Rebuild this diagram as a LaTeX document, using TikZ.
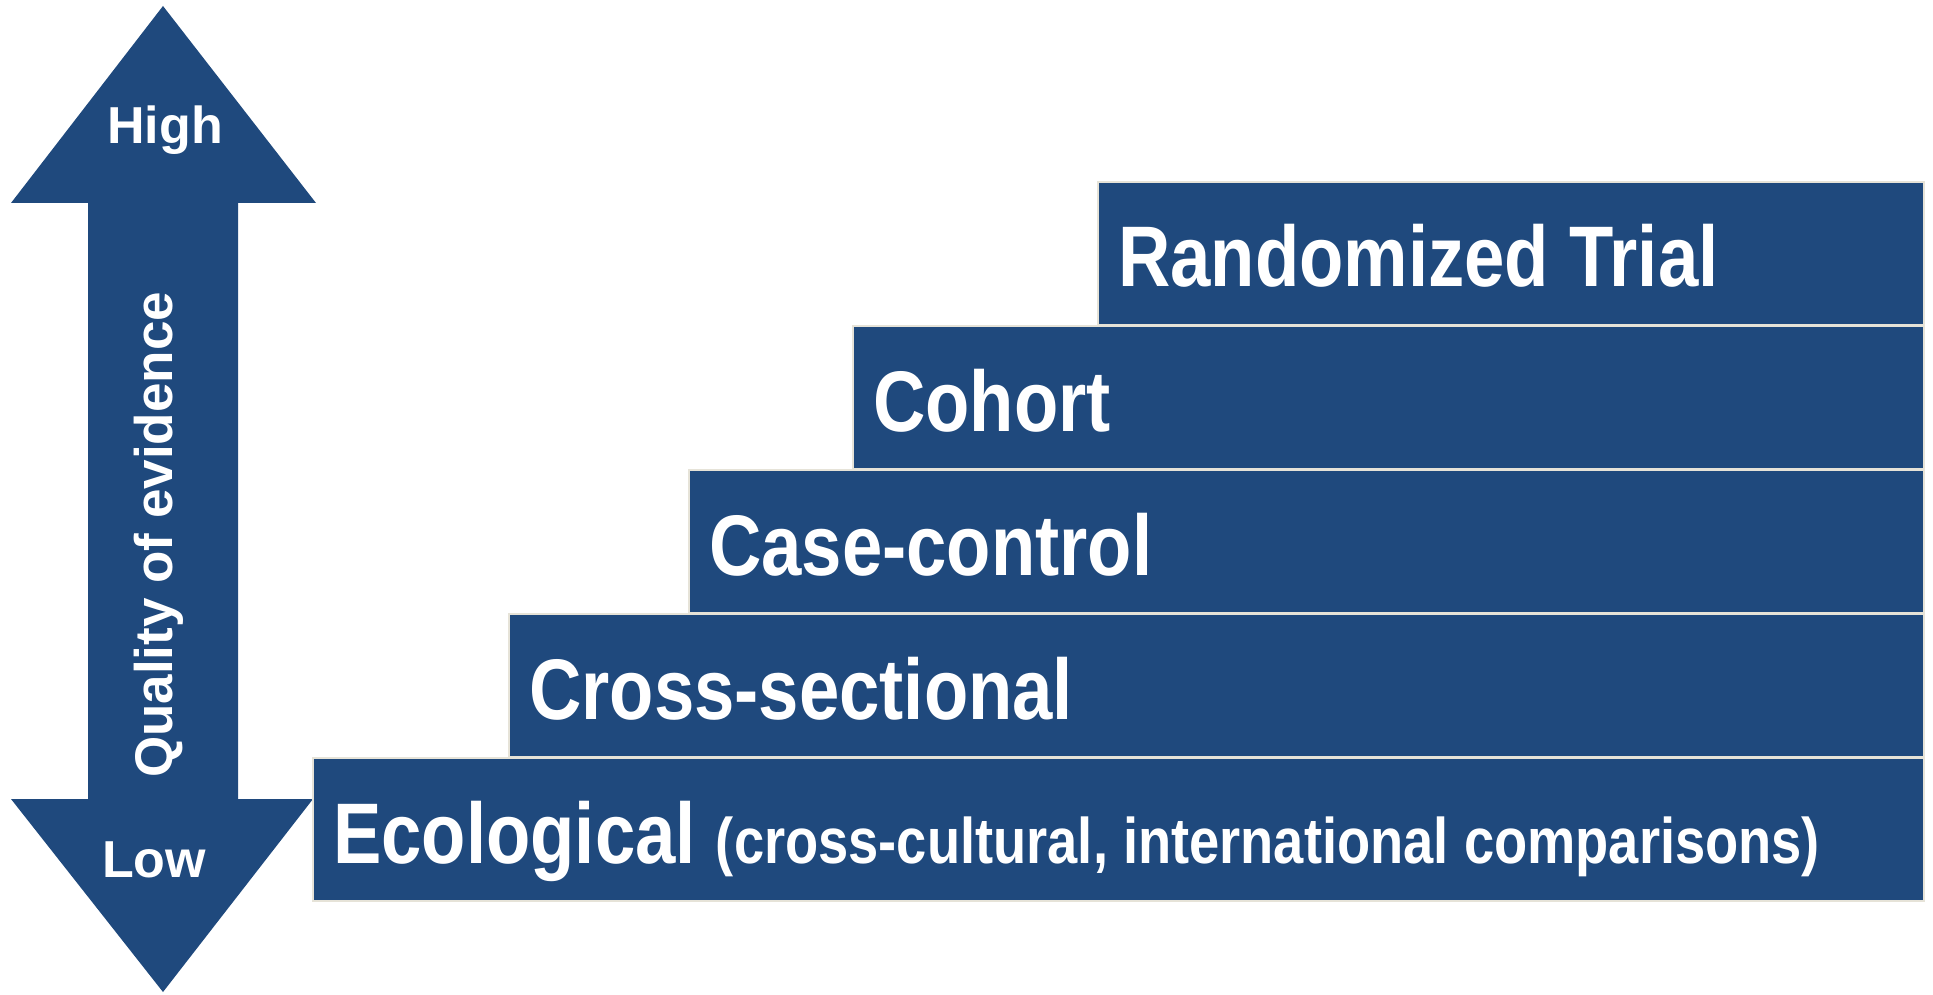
\documentclass[tikz,border=0pt]{standalone}
\usepackage{fontspec}
\newfontfamily\narrowfont[FakeStretch=0.843]{Liberation Sans}
\newfontfamily\arialfont{Liberation Sans}
\definecolor{evblue}{HTML}{1F497D}
\definecolor{evedge}{HTML}{E6E3D8}
\tikzset{
  stepbox/.style={fill=evblue, draw=evedge, line width=2pt, anchor=north west, inner sep=0pt},
  steplabel/.style={text=white, anchor=base west, inner sep=0pt, font=\narrowfont\bfseries\fontsize{86}{90}\selectfont},
  arrowlabel/.style={text=white, inner sep=0pt, font=\arialfont\bfseries\fontsize{52}{56}\selectfont},
}
\begin{document}
\begin{tikzpicture}[x=1pt,y=-1pt]
\useasboundingbox (0,0) rectangle (1933,995);
% double arrow
\fill[evblue] (163,6) -- (316,203) -- (238,203) -- (238,799) -- (313,799) -- (163,992)
  -- (11,799) -- (88,799) -- (88,203) -- (11,203) -- cycle;
\node[arrowlabel, anchor=base] (high) at (165,144) {High};
\node[arrowlabel, anchor=base] (low) at (154,877) {Low};
\node[arrowlabel, rotate=90, font=\arialfont\bfseries\fontsize{53}{56}\selectfont] (quality) at (159,535) {Quality of evidence};
% steps
\node[stepbox, minimum width=826pt, minimum height=143pt] (rt) at (1097,181) {};
\node[stepbox, minimum width=1071pt, minimum height=143pt] (co) at (852,325) {};
\node[stepbox, minimum width=1235pt, minimum height=143pt] (cc) at (688,469) {};
\node[stepbox, minimum width=1415pt, minimum height=143pt] (cs) at (508,613) {};
\node[stepbox, minimum width=1611pt, minimum height=143pt] (ec) at (312,757) {};
\node[steplabel] (rtl) at (1118,287) {Randomized Trial};
\node[steplabel] (col) at (873,431) {Cohort};
\node[steplabel] (ccl) at (709,575) {Case-control};
\node[steplabel] (csl) at (529,719) {Cross-sectional};
\node[steplabel] (ecl) at (333,863) {Ecological {\fontsize{64.4}{70}\selectfont (cross-cultural, international comparisons)}};
\end{tikzpicture}
\end{document}
